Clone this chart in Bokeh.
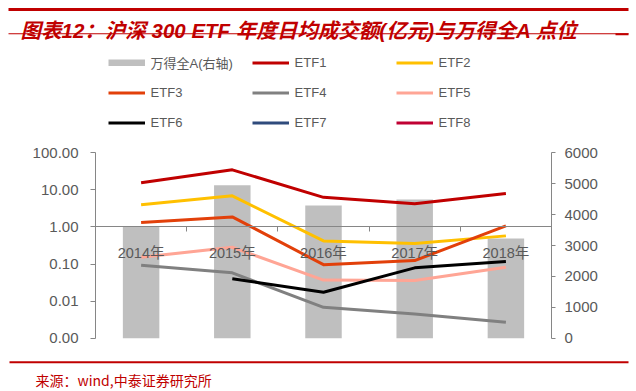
from bokeh.plotting import figure
from bokeh.models import (Range1d, LinearAxis, LogAxis, FixedTicker, Legend, LegendItem,
                          Label, BoxAnnotation, LinearScale)
from bokeh.embed import file_html
from bokeh.resources import INLINE

nan = float("nan")

# ---------------- data ----------------
years = ["2014年", "2015年", "2016年", "2017年", "2018年"]
wind_all_a = [3610, 4950, 4295, 4490, 3225]          # right axis (bars)
etf1 = [15.5, 34.7, 6.3, 4.2, 8.0]
etf2 = [4.0, 6.9, 0.42, 0.36, 0.575]
etf3 = [1.31, 1.87, 0.096, 0.124, 1.07]
etf4 = [0.093, 0.058, 0.0068, 0.0045, 0.0027]
etf5 = [0.152, 0.284, 0.037, 0.036, 0.082]
etf6 = [nan, 0.040, 0.0174, 0.079, 0.117]
etf7 = [nan, nan, nan, nan, nan]
etf8 = [nan, nan, nan, nan, nan]

left_ticks = [0.001, 0.01, 0.1, 1, 10, 100]
left_labels = ["0.00", "0.01", "0.10", "1.00", "10.00", "100.00"]
right_ticks = [0, 1000, 2000, 3000, 4000, 5000, 6000]
right_labels = ["0", "1000", "2000", "3000", "4000", "5000", "6000"]

bar_name = "万得全A(右轴)"
etf_names = ["ETF1", "ETF2", "ETF3", "ETF4", "ETF5", "ETF6", "ETF7", "ETF8"]
title_text = "图表12：沪深 300 ETF 年度日均成交额(亿元)与万得全A 点位"
source_text = "来源：wind,中泰证券研究所"

# ---------------- layout / styles ----------------
W, H = 636, 391
plot_left, plot_right = 95.0, 551.0          # canvas px of the data area
plot_top, plot_bottom = 152.3, 337.7
legend_cols = 3

etf_series = [etf1, etf2, etf3, etf4, etf5, etf6, etf7, etf8]
etf_colors = ["#C00000", "#FFC000", "#E2400A", "#808080",
              "#FFA595", "#000000", "#2F4B7C", "#C00033"]
bar_color = "#BFBFBF"
axis_color = "#868686"
text_color = "#595959"
red = "#C00000"
latin = "Liberation Sans, Noto Sans CJK SC"
cjk = "Noto Sans CJK SC"

n = len(years)
centers = [i + 0.5 for i in range(n)]      # category slots on the x scale
bounds = list(range(1, n))                 # slot boundaries (tick marks)

# ranges extended so that the frame covers the whole canvas
ux = (plot_right - plot_left) / n
x_rng = Range1d(-plot_left / ux, n + (W - plot_right) / ux)
lo, hi = left_ticks[0], left_ticks[-1]
dec_px = (plot_bottom - plot_top) / 5.0
y_rng = Range1d(lo / 10 ** ((H - plot_bottom) / dec_px), hi * 10 ** (plot_top / dec_px))
r0, r1 = right_ticks[0], right_ticks[-1]
upx = (r1 - r0) / (plot_bottom - plot_top)
yr_rng = Range1d(r0 - (H - plot_bottom) * upx, r1 + plot_top * upx)

p = figure(width=W, height=H, x_range=x_rng, y_range=y_rng, y_axis_type="log",
           output_backend="svg", toolbar_location=None, min_border=0,
           x_axis_location=None, y_axis_location=None)
p.extra_y_ranges = {"right": yr_rng}
p.extra_y_scales = {"right": LinearScale()}
p.grid.visible = False
p.outline_line_color = None
p.background_fill_color = "white"
p.border_fill_color = "white"

# left (log) axis
ya = LogAxis(fixed_location=0, bounds=(lo, hi), ticker=FixedTicker(ticks=left_ticks),
             major_label_overrides=dict(zip(left_ticks, left_labels)),
             major_tick_out=5, major_tick_in=0, minor_tick_out=0, minor_tick_in=0,
             major_label_standoff=12, axis_line_color=axis_color,
             major_tick_line_color=axis_color, major_label_text_color=text_color,
             major_label_text_font=latin, major_label_text_font_size="15px")
p.add_layout(ya, "left")

# right axis
ra = LinearAxis(y_range_name="right", fixed_location=n, bounds=(r0, r1),
                ticker=FixedTicker(ticks=right_ticks),
                major_label_overrides=dict(zip(right_ticks, right_labels)),
                major_tick_out=4, major_tick_in=0, minor_tick_out=0, minor_tick_in=0,
                major_label_standoff=9, axis_line_color=axis_color,
                major_tick_line_color=axis_color, major_label_text_color=text_color,
                major_label_text_font=latin, major_label_text_font_size="15px")
p.add_layout(ra, "right")

# category axis crossing at 1.00 (labels at slot centres)
xa = LinearAxis(fixed_location=1, bounds=(0, n), ticker=FixedTicker(ticks=centers),
                major_label_overrides=dict(zip(centers, years)),
                major_tick_out=0, major_tick_in=0, minor_tick_out=0, minor_tick_in=0,
                major_label_standoff=18, axis_line_color=axis_color,
                major_label_text_color=text_color, major_label_text_font=latin,
                major_label_text_font_size="14.5px")
p.add_layout(xa, "below")

# tick marks between categories
ba = LinearAxis(fixed_location=1, ticker=FixedTicker(ticks=bounds),
                major_label_overrides={b: "" for b in bounds},
                major_tick_out=5, major_tick_in=0, minor_tick_out=0, minor_tick_in=0,
                axis_line_color=None, major_tick_line_color=axis_color)
p.add_layout(ba, "below")

# bars
bar_r = p.vbar(x=centers, top=wind_all_a, bottom=0, width=0.4, y_range_name="right",
               fill_color=bar_color, line_color=None)
swatch_r = p.line(x=centers, y=wind_all_a, y_range_name="right", line_width=7,
                  line_color=bar_color, visible=False)

# lines
line_rs = []
for vals, col in zip(etf_series, etf_colors):
    r = p.line(x=centers, y=vals, line_color=col, line_width=3, line_join="round")
    line_rs.append(r)

items = [LegendItem(label=bar_name, renderers=[bar_r, swatch_r])]
items += [LegendItem(label=nm, renderers=[r]) for nm, r in zip(etf_names, line_rs)]
# legend fills column by column: reorder so that it reads row by row
items = [items[c::legend_cols][k] for c in range(legend_cols)
         for k in range(len(items[c::legend_cols]))]
legend = Legend(items=items, ncols=legend_cols, location=(107.6, H - 132),
                glyph_width=37, glyph_height=7, label_standoff=6, label_width=91,
                label_height=20, spacing=10, padding=0, margin=0,
                border_line_color=None, background_fill_alpha=0,
                label_text_font_size="13px", label_text_color=text_color,
                label_text_font=latin, label_text_baseline="middle")
p.add_layout(legend, "center")

# title, source and rules
p.add_layout(Label(x=20, y=29.5, x_units="canvas", y_units="canvas", text=title_text,
                   text_font=latin, text_font_size="20.5px",
                   text_font_style="bold italic", text_color=red,
                   text_baseline="alphabetic"))
p.add_layout(Label(x=35, y=379, x_units="canvas", y_units="canvas", text=source_text,
                   text_font=cjk, text_font_size="14px", text_color=red,
                   text_baseline="middle"))
for (l, r_, t, b) in [(8, 628, 7.4, 10.6), (8, 628, 32.8, 33.8), (615, 628, 32.8, 34.8),
                      (9, 628, 360.7, 362.7)]:
    p.add_layout(BoxAnnotation(left=l, right=r_, top=t, bottom=b,
                               left_units="canvas", right_units="canvas",
                               top_units="canvas", bottom_units="canvas",
                               fill_color=red, fill_alpha=1, line_color=None))

open("out.html", "w").write(file_html(p, INLINE))
